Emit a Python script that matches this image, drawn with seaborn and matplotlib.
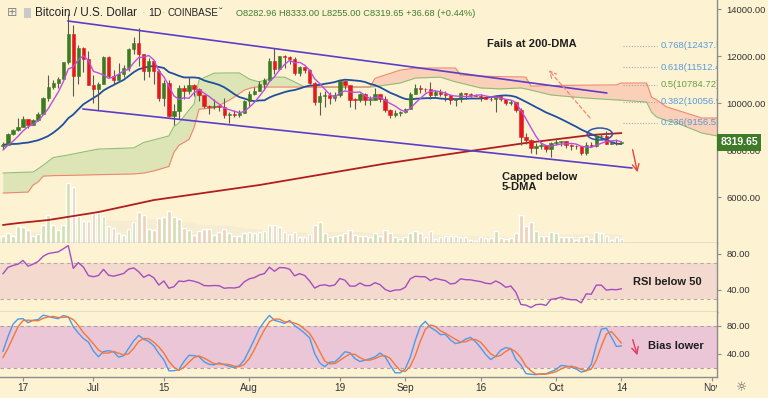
import numpy as np
import pandas as pd
import matplotlib
matplotlib.use("Agg")
import matplotlib.pyplot as plt
from matplotlib.patches import Ellipse, Rectangle
from matplotlib.transforms import blended_transform_factory
import seaborn as sns

# daily candles, 13 Jun -> 14 Oct 2019 (index 0 = 13 Jun)
opens = [8150, 8230, 8690, 8850, 8970, 9330, 9080, 9270, 9540, 10210,
         10680, 10860, 11020, 11740, 12930, 11150, 12360, 11870, 10760, 10590,
         10800, 11960, 11150, 11000, 11230, 11470, 12300, 12560, 12100, 11350,
         11800, 11380, 10200, 10850, 9430, 9670, 10630, 10530, 10760, 10590,
         10330, 9880, 9840, 9880, 9850, 9480, 9530, 9500, 9590, 10090,
         10400, 10530, 10820, 10980, 11800, 11460, 11980, 11970, 11860, 11290,
         11550, 11390, 10870, 10040, 10300, 10360, 10220, 10320, 10920, 10760,
         10140, 10130, 10400, 10140, 10140, 10370, 10190, 9720, 9490, 9590,
         9600, 9760, 10390, 10620, 10590, 10580, 10320, 10480, 10400, 10330,
         10110, 10160, 10420, 10370, 10360, 10310, 10270, 10190, 10160, 10280,
         10170, 9980, 10030, 9690, 8540, 8440, 8070, 8190, 8210, 8050,
         8300, 8330, 8390, 8230, 8160, 8150, 7870, 8210, 8180, 8590,
         8590, 8270, 8300, 8282.96]
highs = [8320, 8720, 8880, 9350, 9460, 9340, 9300, 9600, 10240, 11200,
         11000, 11100, 11760, 13800, 13300, 12450, 12380, 12200, 11200, 10900,
         11980, 12000, 11400, 11700, 11600, 12350, 12800, 13200, 12100, 11900,
         11850, 11450, 11000, 11000, 9950, 10750, 10750, 11100, 10800, 10650,
         10330, 9930, 10180, 9900, 10200, 9600, 9700, 9720, 10120, 10490,
         10660, 10920, 11080, 11900, 12320, 12000, 12050, 12020, 11950, 11580,
         11550, 11450, 10880, 10450, 10520, 10470, 10480, 10950, 10960, 10780,
         10230, 10440, 10420, 10300, 10630, 10380, 10280, 9740, 9690, 9670,
         9800, 10450, 10790, 10780, 10650, 10900, 10550, 10600, 10500, 10380,
         10220, 10460, 10440, 10420, 10390, 10380, 10290, 10280, 10340, 10290,
         10180, 10120, 10050, 9800, 8740, 8470, 8280, 8340, 8220, 8330,
         8500, 8390, 8400, 8240, 8200, 8170, 8320, 8330, 8680, 8670,
         8830, 8410, 8470, 8333]
lows = [8040, 8200, 8630, 8790, 8960, 8950, 9050, 9250, 9540, 10080,
        10600, 10650, 11010, 11660, 10300, 10800, 11300, 10750, 10000, 9700,
        10800, 11050, 10800, 10980, 11120, 11350, 12100, 11570, 11000, 11100,
        10800, 10100, 9880, 9400, 9070, 9300, 10150, 10400, 10300, 10100,
        9800, 9550, 9750, 9650, 9350, 9160, 9400, 9400, 9580, 9890,
        10330, 10500, 10570, 10980, 11230, 11390, 11500, 11660, 11210, 11170,
        11270, 10800, 9900, 9490, 9850, 9960, 10080, 10250, 10600, 9850,
        9750, 10050, 9910, 9920, 10140, 10050, 9600, 9350, 9400, 9450,
        9560, 9740, 10370, 10430, 10460, 10180, 10310, 10300, 10100, 9960,
        9880, 10040, 10150, 10250, 10280, 10070, 10160, 10100, 9600, 10080,
        9900, 9900, 9600, 8200, 8250, 7880, 7850, 8050, 7930, 7720,
        8200, 8180, 8080, 8000, 8050, 7800, 7770, 8120, 8120, 8460,
        8250, 8260, 8200, 8255]
closes = [8230, 8690, 8850, 8970, 9330, 9080, 9270, 9540, 10210, 10680,
          10860, 11020, 11740, 12930, 11150, 12360, 11870, 10760, 10590, 10800,
          11960, 11150, 11000, 11230, 11470, 12300, 12560, 12100, 11350, 11800,
          11380, 10200, 10850, 9430, 9670, 10630, 10530, 10760, 10590, 10330,
          9880, 9840, 9880, 9850, 9480, 9530, 9500, 9590, 10090, 10400,
          10530, 10820, 10980, 11800, 11460, 11980, 11970, 11860, 11290, 11550,
          11390, 10870, 10040, 10300, 10360, 10220, 10320, 10920, 10760, 10140,
          10130, 10400, 10140, 10140, 10370, 10190, 9720, 9490, 9590, 9600,
          9760, 10390, 10620, 10590, 10580, 10320, 10480, 10400, 10330, 10110,
          10160, 10420, 10370, 10360, 10310, 10270, 10190, 10160, 10280, 10170,
          9980, 10030, 9690, 8540, 8440, 8070, 8190, 8210, 8050, 8300,
          8330, 8390, 8230, 8160, 8150, 7870, 8210, 8180, 8590, 8590,
          8270, 8300, 8280, 8319.65]
volumes = [20, 30, 22, 52, 48, 38, 22, 27, 55, 85,
           55, 38, 55, 180, 168, 82, 65, 65, 90, 90,
           80, 50, 45, 30, 25, 42, 62, 92, 85, 42,
           40, 75, 78, 97, 78, 72, 45, 40, 25, 35,
           42, 42, 25, 32, 42, 30, 20, 22, 30, 33,
           30, 32, 35, 55, 55, 48, 32, 28, 32, 18,
           18, 28, 55, 62, 30, 18, 20, 25, 30, 40,
           25, 22, 20, 18, 30, 20, 40, 30, 18, 12,
           18, 30, 35, 30, 18, 35, 12, 18, 22, 22,
           20, 18, 18, 10, 5, 18, 15, 15, 35, 15,
           12, 15, 30, 85, 52, 62, 35, 22, 20, 32,
           30, 18, 18, 18, 10, 18, 22, 12, 32, 30,
           22, 10, 18, 12]

# warm-up days (24 May -> 12 Jun) for the averages and oscillators
pre_highs = [8150, 8130, 8780, 8950, 8820, 8740, 9080, 8580, 8620, 8800,
             8750, 8120, 7900, 7880, 8140, 8050, 7950, 8100, 8030, 8230]
pre_lows = [7820, 7950, 8000, 8660, 8590, 8430, 8100, 8120, 8470, 8540,
            8100, 7450, 7580, 7500, 7780, 7790, 7520, 7570, 7720, 7850]
pre_closes = [7990, 8060, 8740, 8780, 8720, 8660, 8280, 8550, 8560, 8740,
              8110, 7680, 7790, 7810, 7990, 7930, 7630, 8020, 7920, 8170]

# 200-DMA
dma200_days = [0, 3, 9, 19, 30, 51, 76, 93, 104, 109, 117, 123]
dma200 = [4810, 4890, 5020, 5360, 5870, 6510, 7420, 7960, 8300, 8430, 8640, 8720]

# ichimoku cloud edges
cloud_days = [0, 5, 6, 7, 8, 10, 13, 17, 19, 26, 28, 30, 33, 34, 35, 37, 38, 39, 42, 45,
              47, 48, 49, 50, 51, 54, 56, 58, 60, 73, 74, 79, 82, 87, 90, 91, 95, 99, 103, 104,
              105, 109, 116, 122, 123, 128, 129, 130, 132, 134, 139, 142]
span_a = [7020, 7060, 7060, 7200, 7350, 7680, 7790, 7960, 8040, 8090, 8320, 8430, 8600, 9000, 9150,
          9700, 9950, 10980, 11270, 11280, 11280, 11150, 11020, 10950, 10900, 11100, 11100, 10900,
          10680, 10680, 10700, 10850, 11060, 11100, 10900, 10850, 10640, 10600, 10640, 10600,
          10550, 10340, 10210, 10130, 10120, 10040, 9600, 9400, 9250, 9150, 8720, 8600]
span_b = [6170, 6210, 6510, 6640, 6890, 6910, 6920, 6940, 6950, 6980, 7020, 7110, 7300, 7900, 8200,
          8450, 8950, 9740, 9790, 10120, 10400, 10550, 10620, 10680, 10680, 10680, 10680, 10680,
          10680, 10680, 11050, 11400, 11490, 11490, 11490, 11190, 11150, 11120, 11110, 11100,
          10720, 10740, 10760, 10770, 10850, 10850, 10250, 10130, 9830, 9700, 9360, 9360]

channel_upper_days = [12.9, 120.1]
channel_upper = [13490, 10426]
channel_lower_days = [15.9, 125.1]
channel_lower = [9745, 7234]

fib_levels = ["0.236", "0.382", "0.5", "0.618", "0.768"]
fib_prices = [9156.52, 10056.96, 10784.72, 11512.48, 12437.59]

tick_days = [4, 18, 32, 49, 67, 80, 95, 110, 123, 141]
tick_labels = ["17", "Jul", "15", "Aug", "19", "Sep", "16", "Oct", "14", "Nov"]

sns.set_theme(style="white")
plt.rcParams["font.family"] = ["Liberation Sans", "DejaVu Sans"]

BG = "#fdf3d3"
GREEN = "#3b7b22"
RED = "#e3191c"
SEP = "#8c8c8c"
W, H = 768, 398
PLOT_W = 717

df = pd.DataFrame({"open": opens, "high": highs, "low": lows,
                   "close": closes, "volume": volumes})
df["day"] = np.arange(len(df))
up = df["close"] >= df["open"]

# indicators, computed on warm-up + visible days
n_pre = len(pre_closes)
all_c = pd.Series(pre_closes + closes)
all_h = pd.Series(pre_highs + highs)
all_l = pd.Series(pre_lows + lows)
df["sma5"] = all_c.rolling(5).mean().iloc[n_pre:].values
df["sma20"] = all_c.rolling(20).mean().iloc[n_pre:].values
delta = all_c.diff()
gain = delta.clip(lower=0).ewm(alpha=1 / 14, adjust=False).mean()
loss = (-delta.clip(upper=0)).ewm(alpha=1 / 14, adjust=False).mean()
df["rsi"] = (100 - 100 / (1 + gain / loss)).iloc[n_pre:].values
hh = all_h.rolling(14, min_periods=1).max()
ll = all_l.rolling(14, min_periods=1).min()
raw_k = 100 * (all_c - ll) / (hh - ll)
k = raw_k.rolling(3).mean()
d = k.rolling(3).mean()
df["k"] = k.iloc[n_pre:].values
df["d"] = d.iloc[n_pre:].values
df["vma"] = df["volume"].rolling(20, min_periods=1).mean()

fig = plt.figure(figsize=(W / 100, H / 100), dpi=100)
fig.patch.set_facecolor(BG)


def pane(top, bottom):
    return [0, 1 - bottom / H, PLOT_W / W, (bottom - top) / H]


ax_vol = fig.add_axes(pane(0, 243))
ax = fig.add_axes(pane(0, 243), sharex=ax_vol)
ax_rsi = fig.add_axes(pane(243, 312), sharex=ax)
ax_sto = fig.add_axes(pane(312, 377), sharex=ax)
ax.set_facecolor("none")
for a in (ax_vol, ax_rsi, ax_sto):
    a.set_facecolor(BG)

# volume
vol_colors = np.where(up, "#d3dfae", "#ecd2b6")
ax_vol.fill_between(df["day"], 0, df["vma"], color="#f6ecd2", lw=0, zorder=1)
ax_vol.bar(df["day"], df["volume"], width=0.72, color=vol_colors, zorder=2)
ax_vol.set_ylim(0, 729)
ax_vol.axis("off")

# ichimoku cloud
ca = np.array(span_a)
cb = np.array(span_b)
ax.fill_between(cloud_days, ca, cb, where=ca >= cb, interpolate=True,
                color="#dde5b6", lw=0, zorder=1)
ax.fill_between(cloud_days, ca, cb, where=ca < cb, interpolate=True,
                color="#fbd0b8", lw=0, zorder=1)
sns.lineplot(x=cloud_days, y=span_a, ax=ax, color="#8dbe78", lw=0.8, zorder=2)
sns.lineplot(x=cloud_days, y=span_b, ax=ax, color="#f1866d", lw=0.8, zorder=2)

# moving averages
sns.lineplot(x=dma200_days, y=dma200, ax=ax, color="#b21d1d", lw=1.3, zorder=3)
sns.lineplot(data=df, x="day", y="sma20", ax=ax, color="#1f4f9e", lw=1.3, zorder=3)

# candles
candle_colors = np.where(up, GREEN, RED)
ax.vlines(df["day"], df["low"], df["high"], color="#5a5a52", lw=0.8, zorder=4)
body_low = df[["open", "close"]].min(axis=1)
body_h = (df["close"] - df["open"]).abs().clip(lower=25)
ax.bar(df["day"], body_h, bottom=body_low, width=0.66, color=candle_colors,
       edgecolor=candle_colors, lw=0.4, zorder=5)
sns.lineplot(data=df, x="day", y="sma5", ax=ax, color="#b84fe3", lw=1.0, zorder=6)

# channel
sns.lineplot(x=channel_upper_days, y=channel_upper, ax=ax, color="#5b3dc9", lw=1.2, zorder=6)
sns.lineplot(x=channel_lower_days, y=channel_lower, ax=ax, color="#5b3dc9", lw=1.2, zorder=6)

# fibonacci levels
for lvl, p in zip(fib_levels, fib_prices):
    col = "#6a9e3e" if lvl == "0.5" else "#5b9ad6"
    ax.hlines(p, 123.3, 130.0, color="#a5a5a5", lw=0.8, linestyles=(0, (1, 1.5)), zorder=6)
    ax.text(130.8, p, f"{lvl}({p:.2f})", color=col, fontsize=6.8, va="center",
            ha="left", clip_on=True, zorder=7)

# annotations
ax.add_patch(Ellipse((118.7, 8681), width=5.0, height=510, fill=False,
                     ec="#2a56b0", lw=1.1, zorder=8))
ax.annotate("", xy=(108.2, 11490), xytext=(117.1, 9277),
            arrowprops=dict(arrowstyle="->", color="#f08878", lw=0.9, linestyle=(0, (3, 2))),
            zorder=8)
ax.annotate("", xy=(126.3, 6937), xytext=(125.1, 8128),
            arrowprops=dict(arrowstyle="->", color="#e8453a", lw=1.0), zorder=8)
ax.text(96.2, 12511, "Fails at 200-DMA", fontsize=8, fontweight="bold",
        color="#1e1e1e", va="center", ha="left", zorder=9)
ax.text(99.2, 7064, "Capped below\n5-DMA", fontsize=8, fontweight="bold",
        color="#1e1e1e", va="top", ha="left", linespacing=1.05, zorder=9)

# last price tag
tag_tr = blended_transform_factory(ax.transAxes, ax.transData)
ax.text(1.0 + 3.5 / PLOT_W, closes[-1], f"{closes[-1]:.2f}", transform=tag_tr,
        color="white", fontsize=7.5, fontweight="bold", va="center", ha="left",
        clip_on=False, zorder=20,
        bbox=dict(boxstyle="square,pad=0.32", fc="#3d7b27", ec="none"))

# RSI pane
ax_rsi.axhspan(30, 70, color="#f4dace", lw=0, zorder=0)
for lvl in (30, 70):
    ax_rsi.axhline(lvl, color="#b8a6a2", lw=0.8, ls=(0, (3, 3)), zorder=1)
sns.lineplot(data=df, x="day", y="rsi", ax=ax_rsi, color="#a54cc0", lw=1.0, zorder=3)
ax_rsi.text(125.3, 48.3, "RSI below 50", fontsize=8, fontweight="bold",
            color="#1e1e1e", va="center", ha="left")

# stochastic pane
ax_sto.axhspan(20, 80, color="#ebc6d6", lw=0, zorder=0)
for lvl in (20, 80):
    ax_sto.axhline(lvl, color="#b49aa6", lw=0.8, ls=(0, (3, 3)), zorder=1)
sns.lineplot(data=df, x="day", y="k", ax=ax_sto, color="#4c9be8", lw=1.0, zorder=3)
sns.lineplot(data=df, x="day", y="d", ax=ax_sto, color="#f2783c", lw=1.0, zorder=3)
ax_sto.annotate("", xy=(126.3, 34.3), xytext=(125.1, 64.3),
                arrowprops=dict(arrowstyle="->", color="#e23a5c", lw=1.0))
ax_sto.text(128.2, 51.4, "Bias lower", fontsize=8, fontweight="bold",
            color="#1e1e1e", va="center", ha="left")

# limits, axes and ticks
ax.set_xlim(-0.58, 142)
ax.set_ylim(4043, 14383)
ax_rsi.set_ylim(15, 91.7)
ax_sto.set_ylim(7.1, 100)

for a, ticks in ((ax, [6000, 8000, 10000, 12000, 14000]),
                 (ax_rsi, [40, 80]), (ax_sto, [40, 80])):
    a.set_xlabel("")
    a.set_ylabel("")
    a.yaxis.tick_right()
    a.set_yticks(ticks)
    a.set_yticklabels([f"{t:.2f}" for t in ticks])
    a.tick_params(axis="y", right=True, length=3, width=0.8, color=SEP,
                  labelsize=6.8, labelcolor="#333333", pad=4)
    a.tick_params(axis="x", bottom=False, labelbottom=False)
    a.grid(False)
    for s in ("top", "left"):
        a.spines[s].set_visible(False)
    for s in ("right", "bottom"):
        a.spines[s].set_visible(True)
        a.spines[s].set_color(SEP)
        a.spines[s].set_linewidth(1.0)

ax_sto.set_xticks(tick_days)
ax_sto.tick_params(axis="x", bottom=True, length=3, width=0.8, color=SEP,
                   labelbottom=False)
lbl_tr = blended_transform_factory(ax_sto.transData, ax_sto.transAxes)
clip_rect = Rectangle((0, 0), PLOT_W / W, 1, transform=fig.transFigure,
                      visible=False)
fig.add_artist(clip_rect)
for dday, lab in zip(tick_days, tick_labels):
    t = ax_sto.text(dday, -0.17, lab, transform=lbl_tr, fontsize=7.2,
                    color="#333333", ha="center", va="center", clip_on=False)
    t.set_clip_path(clip_rect)
    t.set_clip_on(True)

# header
ty = 1 - 13 / H
fig.text(7 / W, ty, "⊞", fontsize=9, color="#8a8a8a", va="center",
         family=["DejaVu Sans"])
fig.add_artist(Rectangle((24 / W, 1 - 18 / H), 7 / W, 10 / H, transform=fig.transFigure,
                         color="#c9c9c9", lw=0))
fig.text(35 / W, ty, "Bitcoin / U.S. Dollar", fontsize=8.5, color="#222222", va="center")
fig.text(142 / W, ty, "·", fontsize=8, color="#aaaaaa", va="center")
fig.text(148 / W, ty, "1D", fontsize=7.6, color="#222222", va="center")
fig.text(162 / W, ty, "·", fontsize=8, color="#aaaaaa", va="center")
fig.text(168 / W, ty, "COINBASE", fontsize=7.1, color="#222222", va="center")
fig.text(219 / W, ty, "ˇ", fontsize=8, color="#444444", va="center")
fig.text(236 / W, ty,
         "O8282.96 H8333.00 L8255.00 C8319.65 +36.68 (+0.44%)",
         fontsize=6.7, color="#3f7d2c", va="center")
fig.text(742 / W, 1 - 388 / H, "☼", fontsize=9, color="#555555",
         ha="center", va="center", family=["DejaVu Sans"])

fig.savefig("out.png", dpi=100, facecolor=BG)
